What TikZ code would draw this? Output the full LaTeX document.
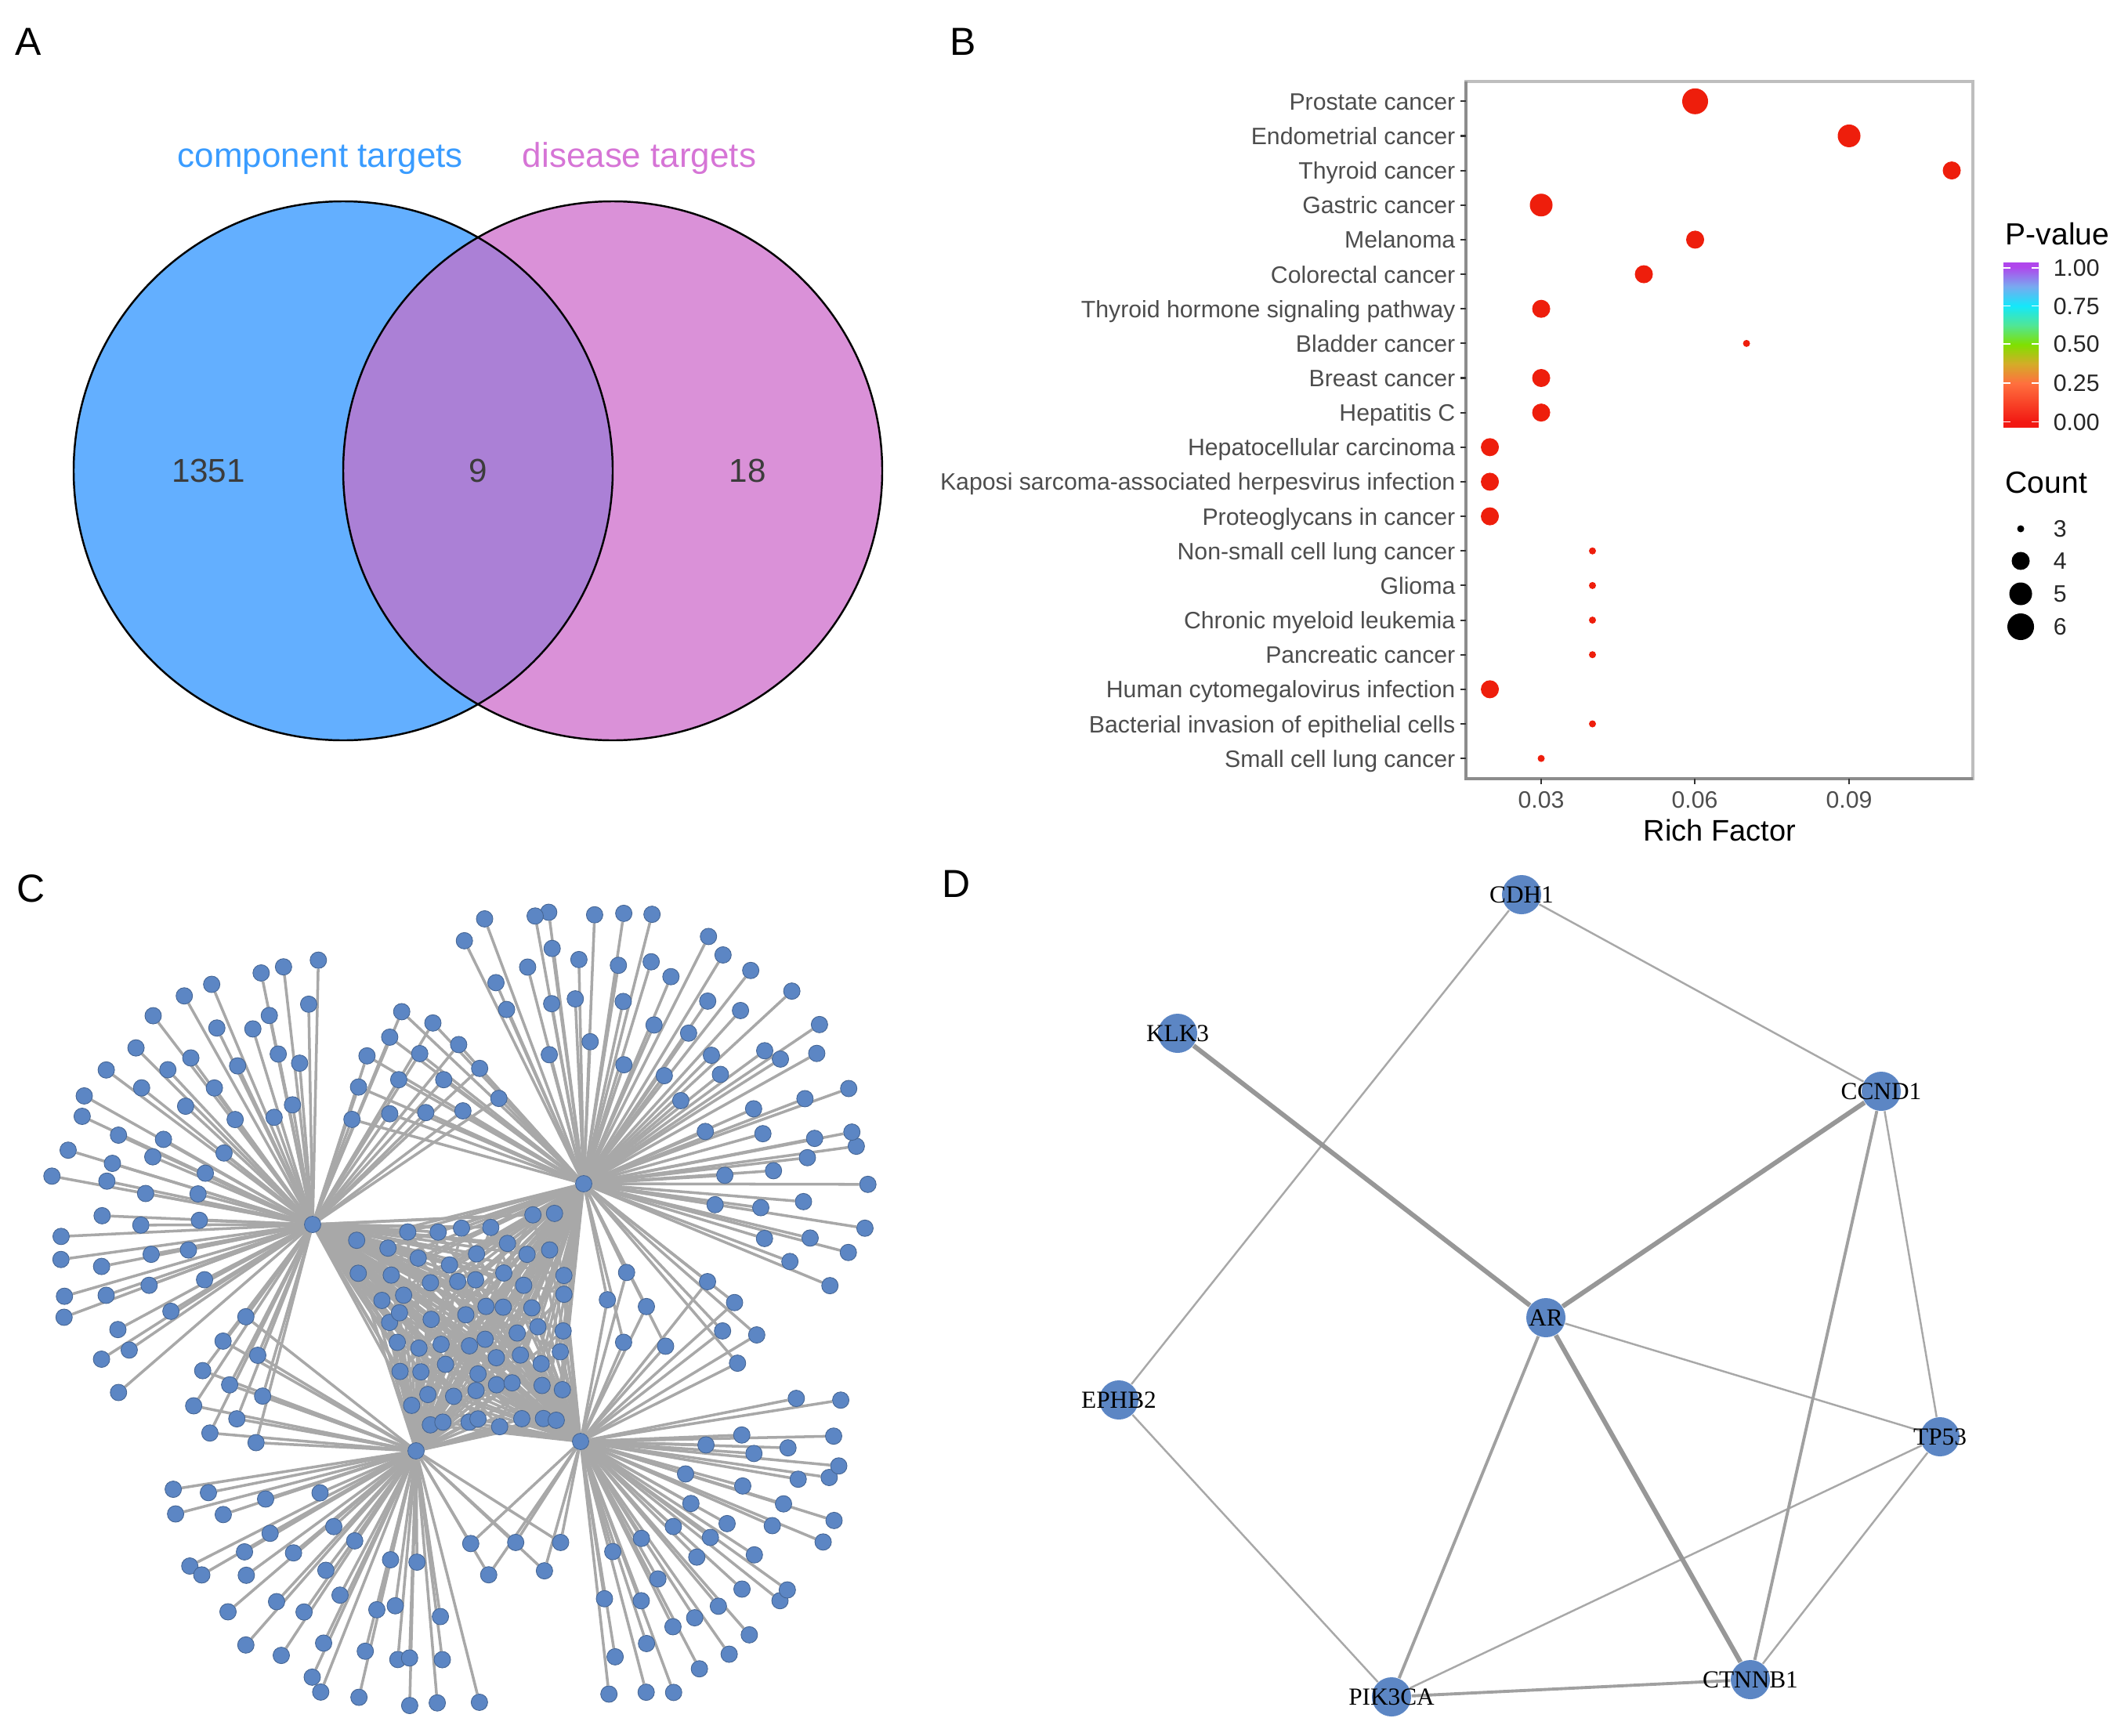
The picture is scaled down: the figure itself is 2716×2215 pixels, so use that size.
\documentclass[tikz,border=0pt]{standalone}
\usepackage{fontspec}
\setmainfont{Liberation Sans}
\newfontfamily\genefont{Liberation Serif}
\usetikzlibrary{calc}

\definecolor{vennblue}{RGB}{99,175,255}
\definecolor{vennpink}{RGB}{218,145,216}
\definecolor{vennmix}{RGB}{171,128,214}
\definecolor{compblue}{RGB}{58,156,255}
\definecolor{disorchid}{RGB}{214,117,214}
\definecolor{numgray}{RGB}{60,60,60}
\definecolor{axgray}{RGB}{77,77,77}
\definecolor{framelight}{RGB}{190,190,190}
\definecolor{framedark}{RGB}{140,140,140}
\definecolor{dotred}{RGB}{238,30,12}
\definecolor{netblue}{RGB}{92,134,196}
\definecolor{netedge}{RGB}{168,168,168}
\definecolor{pv0}{RGB}{242,24,18}
\definecolor{pv1}{RGB}{255,112,62}
\definecolor{pv2}{RGB}{212,172,40}
\definecolor{pv3}{RGB}{128,224,0}
\definecolor{pv4}{RGB}{80,230,150}
\definecolor{pv5}{RGB}{20,232,250}
\definecolor{pv6}{RGB}{120,170,240}
\definecolor{pv7}{RGB}{176,70,236}

\pgfdeclareverticalshading{pvalue}{100bp}{color(0bp)=(pv0); color(26.5bp)=(pv0);
  color(38.3bp)=(pv1); color(44.2bp)=(pv2); color(50bp)=(pv3); color(55.9bp)=(pv4);
  color(61.8bp)=(pv5); color(67.7bp)=(pv6); color(73.6bp)=(pv7); color(100bp)=(pv7)}

\pgfdeclarelayer{edgelayer}
\pgfsetlayers{edgelayer,main}

% hub, first angle, last angle, radius, count
\newcommand\fan[5]{%
  \foreach \k in {1,...,#5}{
    \pgfmathsetmacro\fanang{#2+(#3-#2)*(\k-0.5)/#5+3*rand}
    \pgfmathsetmacro\fanrad{#4+12*rand}
    \node[cnode] (#1r#4n\k) at ($(#1)+(-\fanang:\fanrad)$) {};
  }}
% hub, radius, count
\newcommand\fanlinks[3]{%
  \foreach \k in {1,...,#3}{\draw[cedge] (#1) -- (#1r#2n\k);}}

\tikzset{
  rdot/.style={circle,fill=dotred,inner sep=0pt,minimum size=#1},
  kdot/.style={circle,fill=black,inner sep=0pt,minimum size=#1}}

\begin{document}
\begin{tikzpicture}[x=0.01cm,y=-0.01cm]
\tikzstyle{panel}=[font=\fontsize{14.2}{17}\selectfont,anchor=base west,inner sep=0pt]
\tikzstyle{vennlabel}=[font=\fontsize{12.5}{15}\selectfont,anchor=base,inner sep=0pt]
\tikzstyle{vennnum}=[font=\fontsize{12}{14}\selectfont,text=numgray,anchor=base,inner sep=0pt]
\tikzstyle{term}=[font=\fontsize{8.6}{10}\selectfont,text=axgray,anchor=base east,inner sep=0pt]
\tikzstyle{ticklab}=[font=\fontsize{8.6}{10}\selectfont,text=axgray,anchor=base,inner sep=0pt]
\tikzstyle{axtitle}=[font=\fontsize{10.8}{13}\selectfont,anchor=base,inner sep=0pt]
\tikzstyle{legtitle}=[font=\fontsize{11.1}{13}\selectfont,anchor=base west,inner sep=0pt]
\tikzstyle{leglab}=[font=\fontsize{8.6}{10}\selectfont,text=black!85,anchor=base west,inner sep=0pt]
\tikzstyle{tick}=[draw=black!80,line width=0.6pt]
\tikzstyle{cnode}=[circle,fill=netblue,draw=netblue!75!black,line width=0.25pt,inner sep=0pt,minimum size=0.21cm]
\tikzstyle{cedge}=[draw=netedge,line width=1pt]
\tikzstyle{gene}=[circle,fill=netblue,inner sep=0pt,minimum size=0.5cm]
\tikzstyle{genetext}=[font=\genefont\fontsize{8.9}{10}\selectfont,inner sep=0pt]
\tikzstyle{weak}=[draw=netedge,line width=0.7pt]
\tikzstyle{mid}=[draw=netedge!95!black,line width=1.1pt]
\tikzstyle{strong}=[draw=netedge!90!black,line width=1.7pt]

\useasboundingbox (0,0) rectangle (2716,2215);

\node[panel] (labA) at (19,70) {A};
\node[panel] (labB) at (1212,70) {B};
\node[panel] (labC) at (21,1151) {C};
\node[panel] (labD) at (1202,1145) {D};

% venn
\fill[vennblue] (438,601) circle[radius=344];
\fill[vennpink] (782,601) circle[radius=344];
\begin{scope}
  \clip (438,601) circle[radius=344];
  \fill[vennmix] (782,601) circle[radius=344];
\end{scope}
\draw[line width=0.7pt] (438,601) circle[radius=344] (782,601) circle[radius=344];
\node[vennlabel,text=compblue] (comp) at (409,213) {component targets};
\node[vennlabel,text=disorchid] (dis) at (816,213) {disease targets};
\node[vennnum] (onlycomp) at (266,615) {1351};
\node[vennnum] (both) at (610,615) {9};
\node[vennnum] (onlydis) at (954,615) {18};

% bubble plot
\draw[framelight,line width=0.9pt] (1871,104) rectangle (2518,994);
\draw[framedark,line width=0.9pt] (1871,104) -- (1871,994) -- (2518,994);
\foreach \lab/\rf/\cnt [count=\i] in {Prostate cancer/0.06/6, Endometrial cancer/0.09/5,
  Thyroid cancer/0.11/4, Gastric cancer/0.03/5, Melanoma/0.06/4, Colorectal cancer/0.05/4,
  Thyroid hormone signaling pathway/0.03/4, Bladder cancer/0.07/3, Breast cancer/0.03/4,
  Hepatitis C/0.03/4, Hepatocellular carcinoma/0.02/4,
  Kaposi sarcoma-associated herpesvirus infection/0.02/4, Proteoglycans in cancer/0.02/4,
  Non-small cell lung cancer/0.04/3, Glioma/0.04/3, Chronic myeloid leukemia/0.04/3,
  Pancreatic cancer/0.04/3, Human cytomegalovirus infection/0.02/4,
  Bacterial invasion of epithelial cells/0.04/3, Small cell lung cancer/0.03/3}{
  \pgfmathsetmacro\rowy{129.3+44.15*(\i-1)}
  \pgfmathsetmacro\dotx{1967+(\rf-0.03)*6550}
  \pgfmathsetmacro\dotsz{{0,0,0,0.09,0.23,0.29,0.33}[\cnt]}
  \node[term] (term\i) at (1858,\rowy+11) {\lab};
  \draw[tick] (1864,\rowy) -- (1871,\rowy);
  \node[rdot=\dotsz cm] (dot\i) at (\dotx,\rowy) {};
}
\foreach \v/\xx [count=\j] in {0.03/1967,0.06/2163,0.09/2360}{
  \draw[tick] (\xx,994) -- (\xx,1001);
  \node[ticklab] (xtick\j) at (\xx,1031) {\v};
}
\node[axtitle] (xtitle) at (2195,1073) {Rich Factor};

% legends
\node[legtitle] (ptitle) at (2559,312) {P-value};
\shade[shading=pvalue] (2557,335) rectangle (2602,545);
\foreach \v/\yy [count=\j] in {1.00/342,0.75/390.5,0.50/439,0.25/489,0.00/538.5}{
  \draw[white,line width=0.5pt] (2557,\yy) -- (2566,\yy) (2593,\yy) -- (2602,\yy);
  \node[leglab] (pval\j) at (2620,\yy+10.7) {\v};
}
\node[legtitle] (ctitle) at (2559,629) {Count};
\foreach \n/\yy/\sz [count=\j] in {3/675/0.09,4/716/0.23,5/758/0.29,6/800/0.34}{
  \node[kdot=\sz cm] (cdot\j) at (2579,\yy) {};
  \node[leglab] (clab\j) at (2620,\yy+10.7) {\n};
}

% network C
\pgfmathsetseed{4242}
\node[cnode] (h1) at (399,1563) {};
\node[cnode] (h2) at (745,1511) {};
\node[cnode] (h3) at (531,1852) {};
\node[cnode] (h4) at (741,1840) {};
\fan{h1}{84}{222}{330}{18}
\fan{h1}{86}{220}{272}{15}
\fan{h1}{88}{218}{214}{12}
\fan{h1}{92}{214}{156}{9}
\fan{h2}{-28}{122}{352}{20}
\fan{h2}{-26}{120}{292}{17}
\fan{h2}{-24}{118}{232}{13}
\fan{h2}{-20}{112}{172}{8}
\fan{h3}{186}{285}{322}{13}
\fan{h3}{188}{284}{262}{11}
\fan{h3}{190}{282}{202}{8}
\fan{h3}{194}{280}{142}{5}
\fan{h4}{-88}{15}{332}{14}
\fan{h4}{-86}{13}{272}{12}
\fan{h4}{-84}{10}{212}{9}
\fan{h4}{-80}{5}{152}{6}
\foreach \p [count=\k] in {(512.7,1291.4),(552.5,1305.8),(497.4,1323.9),(585.4,1333.4),
  (468.4,1347.8),(535.7,1344.9),(612.2,1363.8),(457.6,1387.6),(508.9,1378.2),
  (566.3,1378.2),(636.7,1402.1),(449.2,1428.9),(497.4,1421.7),(543.4,1420.2),(590.8,1418)}
  \node[cnode] (bab\k) at \p {};
\foreach \p [count=\k] in {(313.8,1680.8),(284.7,1711.9),(329,1730),(258.7,1749.6),
  (293.1,1767.7),(335.2,1782.1),(247.2,1794.5),(302.3,1811.1),(267.9,1829.2),(326.8,1841.5)}
  \node[cnode] (bac\k) at \p {};
\foreach \p [count=\k] in {(903,1636),(937.5,1662.7),(922.2,1698.9),(965.8,1704),
  (941.3,1740.1),(799.7,1624.3),(775.2,1659.1),(825,1667.8),(849.5,1718.4),(795.9,1713.4)}
  \node[cnode] (bbd\k) at \p {};
\foreach \p [count=\k] in {(600.8,1970.3),(658.2,1968.9),(715.5,1968.9),(623.7,2010.2),(694.9,2005.1)}
  \node[cnode] (bcd\k) at \p {};
\foreach \u in {1,...,8}{
  \foreach \v in {1,...,8}{
    \pgfmathsetmacro\uu{(\u+0.3*rand)/9}
    \pgfmathsetmacro\vv{(\v+0.3*rand)/9}
    \pgfmathsetmacro\gx{(1-\uu)*(1-\vv)*399+\uu*(1-\vv)*745+(1-\uu)*\vv*531+\uu*\vv*741}
    \pgfmathsetmacro\gy{(1-\uu)*(1-\vv)*1563+\uu*(1-\vv)*1511+(1-\uu)*\vv*1852+\uu*\vv*1840}
    \node[cnode] (g\u\v) at (\gx,\gy) {};
  }
}

% network D
\node[gene,label={[genetext]center:CDH1}] (cdh1) at (1942,1142) {};
\node[gene,label={[genetext]center:KLK3}] (klk3) at (1503,1319) {};
\node[gene,label={[genetext]center:CCND1}] (ccnd1) at (2401,1393) {};
\node[gene,label={[genetext]center:AR}] (ar) at (1973,1682) {};
\node[gene,label={[genetext]center:EPHB2}] (ephb2) at (1428,1787) {};
\node[gene,label={[genetext]center:TP53}] (tp53) at (2476,1834) {};
\node[gene,label={[genetext]center:CTNNB1}] (ctnnb1) at (2234,2144) {};
\node[gene,label={[genetext]center:PIK3CA}] (pik3ca) at (1776,2166) {};

\begin{pgfonlayer}{edgelayer}
  \fanlinks{h1}{330}{18} \fanlinks{h1}{272}{15} \fanlinks{h1}{214}{12} \fanlinks{h1}{156}{9}
  \fanlinks{h2}{352}{20} \fanlinks{h2}{292}{17} \fanlinks{h2}{232}{13} \fanlinks{h2}{172}{8}
  \fanlinks{h3}{322}{13} \fanlinks{h3}{262}{11} \fanlinks{h3}{202}{8} \fanlinks{h3}{142}{5}
  \fanlinks{h4}{332}{14} \fanlinks{h4}{272}{12} \fanlinks{h4}{212}{9} \fanlinks{h4}{152}{6}
  \foreach \k in {1,...,15} \draw[cedge] (h1) -- (bab\k) -- (h2);
  \foreach \k in {1,...,10} \draw[cedge] (h1) -- (bac\k) -- (h3);
  \foreach \k in {1,...,10} \draw[cedge] (h2) -- (bbd\k) -- (h4);
  \foreach \k in {1,...,5} \draw[cedge] (h3) -- (bcd\k) -- (h4);
  \foreach \u in {1,...,8}
    \foreach \v in {1,...,8}
      \draw[cedge] (h1) -- (g\u\v) -- (h2) (h3) -- (g\u\v) -- (h4);
  \draw[weak] (cdh1) -- (ephb2) (cdh1) -- (ccnd1) (ccnd1) -- (tp53) (ar) -- (tp53)
    (ephb2) -- (pik3ca) (tp53) -- (pik3ca) (tp53) -- (ctnnb1);
  \draw[mid] (ar) -- (pik3ca) (ccnd1) -- (ctnnb1) (pik3ca) -- (ctnnb1);
  \draw[strong] (klk3) -- (ar) (ccnd1) -- (ar) (ar) -- (ctnnb1);
\end{pgfonlayer}
\end{tikzpicture}
\end{document}
